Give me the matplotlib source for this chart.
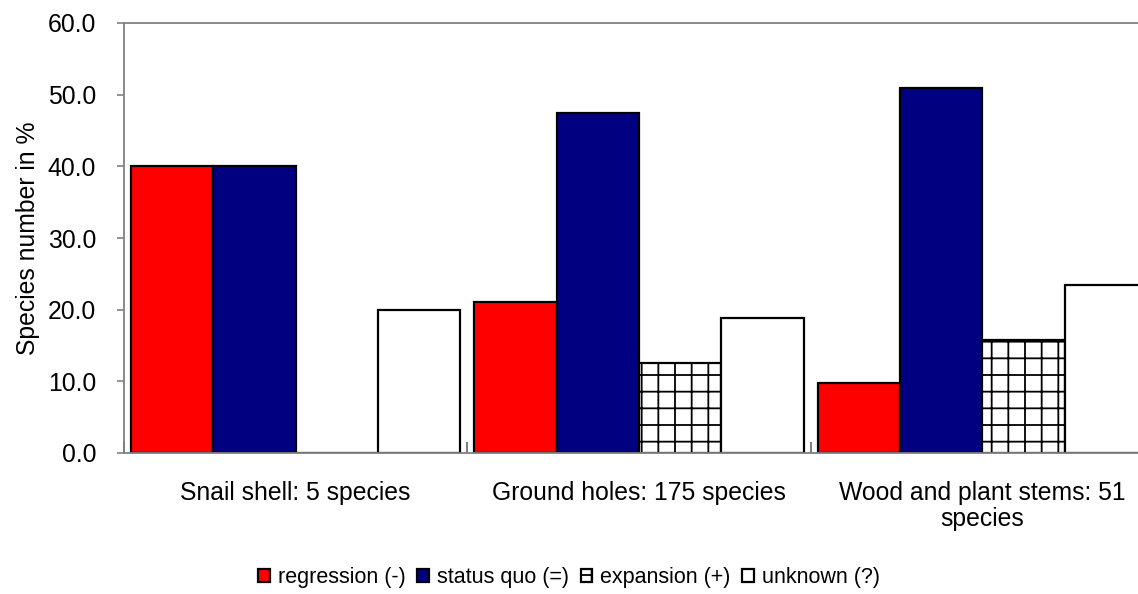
import numpy as np
import matplotlib.pyplot as plt

plt.rcParams['font.family'] = ['Liberation Sans', 'DejaVu Sans']
plt.rcParams['hatch.linewidth'] = 1.3

categories = ['Snail shell: 5 species', 'Ground holes: 175 species',
              'Wood and plant stems: 51\nspecies']
series = ['regression (-)', 'status quo (=)', 'expansion (+)', 'unknown (?)']
regression = [40.0, 21.1, 9.8]
status_quo = [40.0, 47.4, 51.0]
expansion = [0.0, 12.6, 15.7]
unknown = [20.0, 18.9, 23.5]

colors = ['#ff0000', '#000080', 'white', 'white']
hatches = [None, None, '+', None]
FS = 17.8


def main():
    fig = plt.figure(figsize=(11.38, 5.94), dpi=100)
    # plot area runs past the right edge of the figure
    ax = fig.add_axes([124 / 1138, (594 - 453) / 594, 1030 / 1138, 430 / 594])

    x = np.arange(len(categories))
    width = 0.24
    for i, vals in enumerate([regression, status_quo, expansion, unknown]):
        ax.bar(x + (i - 1.5) * width, vals, width, color=colors[i],
               edgecolor='black', linewidth=1.6, hatch=hatches[i],
               label=series[i])

    ax.set_xlim(-0.5, 2.5)
    ax.set_ylim(0, 60)
    ax.set_yticks(np.arange(0, 61, 10))
    ax.set_yticklabels([f'{v:.1f}' for v in np.arange(0, 61, 10)])
    ax.set_xticks(x)
    ax.set_xticklabels(categories, fontsize=FS, linespacing=1.1)
    ax.tick_params(axis='x', length=0, pad=20)
    ax.set_xticks([-0.5, 0.5, 1.5, 2.5], minor=True)
    ax.tick_params(axis='x', which='minor', direction='in', length=8,
                   width=1.5, color='#808080')
    ax.tick_params(axis='y', labelsize=FS, length=5, width=1.2,
                   color='#808080', direction='out', pad=15)
    for side in ['left', 'bottom', 'top']:
        ax.spines[side].set_color('#808080')
        ax.spines[side].set_linewidth(1.3)
    ax.spines['right'].set_visible(False)
    ax.set_ylabel('Species number in %', fontsize=FS, labelpad=6)

    fig.legend(loc='center', bbox_to_anchor=(0.5, 0.027), ncol=4,
               frameon=False, fontsize=15.5, handlelength=0.55,
               handleheight=0.55, handletextpad=0.35, columnspacing=0.55)

    fig.savefig('out.png', dpi=100)


if __name__ == '__main__':
    main()
